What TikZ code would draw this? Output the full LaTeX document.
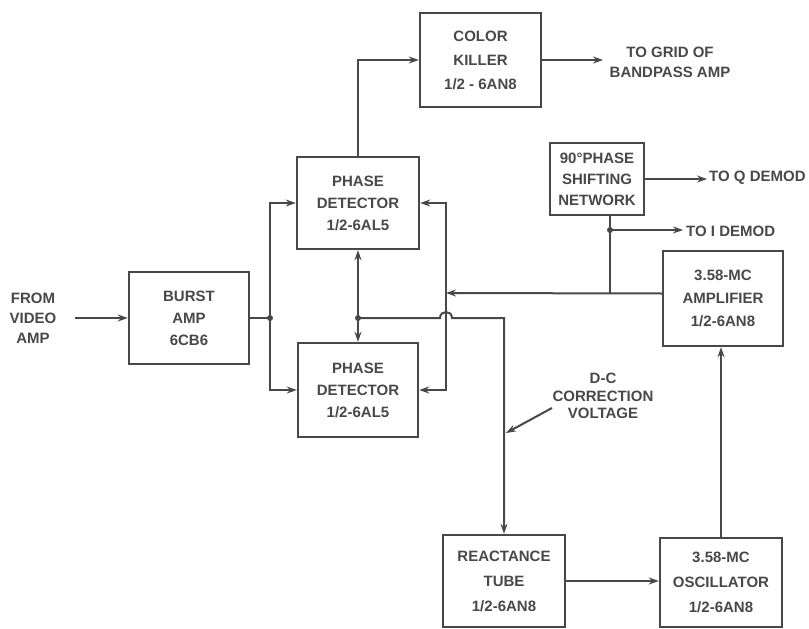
\documentclass[tikz,border=0pt]{standalone}
\usepackage{fontspec}
\setmainfont{Liberation Sans}
\usetikzlibrary{arrows.meta}
\definecolor{ink}{RGB}{72,72,72}
\begin{document}
\begin{tikzpicture}[x=1pt,y=-1pt,
  wire/.style={draw=ink,line width=2pt},
  arr/.style={draw=ink,line width=2pt,-{Stealth[length=10pt,width=7pt]}},
  lbl/.style={text=ink,font=\fontsize{15}{21}\selectfont\bfseries,align=center,inner sep=0pt},
  blk/.style={draw=ink,line width=2.4pt,text=ink,font=\fontsize{15}{#1}\selectfont\bfseries,align=center,inner sep=0pt},
  blk/.default=22,
  jdot/.style={fill=ink}]
\useasboundingbox (0,0) rectangle (809,629);
% blocks
\node[blk=24, minimum width=121pt, minimum height=94pt] (killer) at (480.5,60) {COLOR\\KILLER\\1/2 - 6AN8};
\node[blk, minimum width=122pt, minimum height=92pt] (pdt) at (358,203) {PHASE\\DETECTOR\\1/2-6AL5};
\node[blk, minimum width=120pt, minimum height=94pt] (pdb) at (358,390) {PHASE\\DETECTOR\\1/2-6AL5};
\node[blk, minimum width=120pt, minimum height=92pt] (burst) at (189,318) {BURST\\AMP\\6CB6};
\node[blk=21, minimum width=94pt, minimum height=72pt] (shift) at (597,179) {90°PHASE\\SHIFTING\\NETWORK};
\node[blk=23, minimum width=120pt, minimum height=95pt] (ampl) at (723,298.5) {3.58-MC\\AMPLIFIER\\1/2-6AN8};
\node[blk=25, minimum width=122pt, minimum height=92pt] (react) at (504,581) {REACTANCE\\TUBE\\1/2-6AN8};
\node[blk=25, minimum width=122pt, minimum height=89pt] (osc) at (721,582.5) {3.58-MC\\OSCILLATOR\\1/2-6AN8};
% free labels
\node[lbl, font=\fontsize{15}{20}\selectfont\bfseries] (src) at (33,318) {FROM\\VIDEO\\AMP};
\node[lbl, font=\fontsize{15}{20}\selectfont\bfseries] (grid) at (670,62) {TO GRID OF\\BANDPASS AMP};
\node[lbl, anchor=west] (qd) at (709,178) {TO Q DEMOD};
\node[lbl, anchor=west] (id) at (686,231) {TO I DEMOD};
\node[lbl, font=\fontsize{15}{17.5}\selectfont\bfseries] (dc) at (603,396) {D-C\\CORRECTION\\VOLTAGE};
% coordinates
\coordinate (vin) at (75,318);
\coordinate (j1) at (270,318);
\coordinate (j2) at (358,318);
\coordinate (hopL) at (440,318);
\coordinate (hopR) at (452,318);
\coordinate (tap) at (446,293);
\coordinate (gridend) at (603,60);
\coordinate (j3) at (610,230);
\coordinate (iend) at (683,230);
\coordinate (qend) at (707,179);
\coordinate (dcs) at (552,408);
\coordinate (dce) at (506,433);
% connectors
\draw[arr] (vin) -- (burst.west);
\draw[wire] (burst.east) -- (j1);
\draw[arr] (j1) |- (pdt.west);
\draw[arr] (j1) |- (pdb.west);
\draw[arr] (pdt.north) |- (killer.west);
\draw[arr] (killer.east) -- (gridend);
\draw[arr] (j2) -- (pdt.south);
\draw[arr] (j2) -- (pdb.north);
\draw[arr] (j2) -- (hopL) .. controls ([yshift=8pt]hopL) and ([yshift=8pt]hopR) .. (hopR) -| (react.north);
\draw[arr] (tap) |- (pdt.east);
\draw[arr] (tap) |- (pdb.east);
\draw[arr] ([yshift=5pt]ampl.west) -- (tap);
\draw[wire] ([xshift=13pt]shift.south) -- ([xshift=13pt]shift.south |- tap);
\draw[arr] (j3) -- (iend);
\draw[arr] (shift.east) -- (qend);
\draw[arr] (osc.north) -- (osc.north |- ampl.south);
\draw[arr] (react.east) -- (react.east -| osc.west);
\draw[arr] (dcs) -- (dce);
% junction dots
\fill[jdot] (j1) circle (3pt);
\fill[jdot] (j2) circle (3pt);
\fill[jdot] (j3) circle (3pt);
\end{tikzpicture}
\end{document}
